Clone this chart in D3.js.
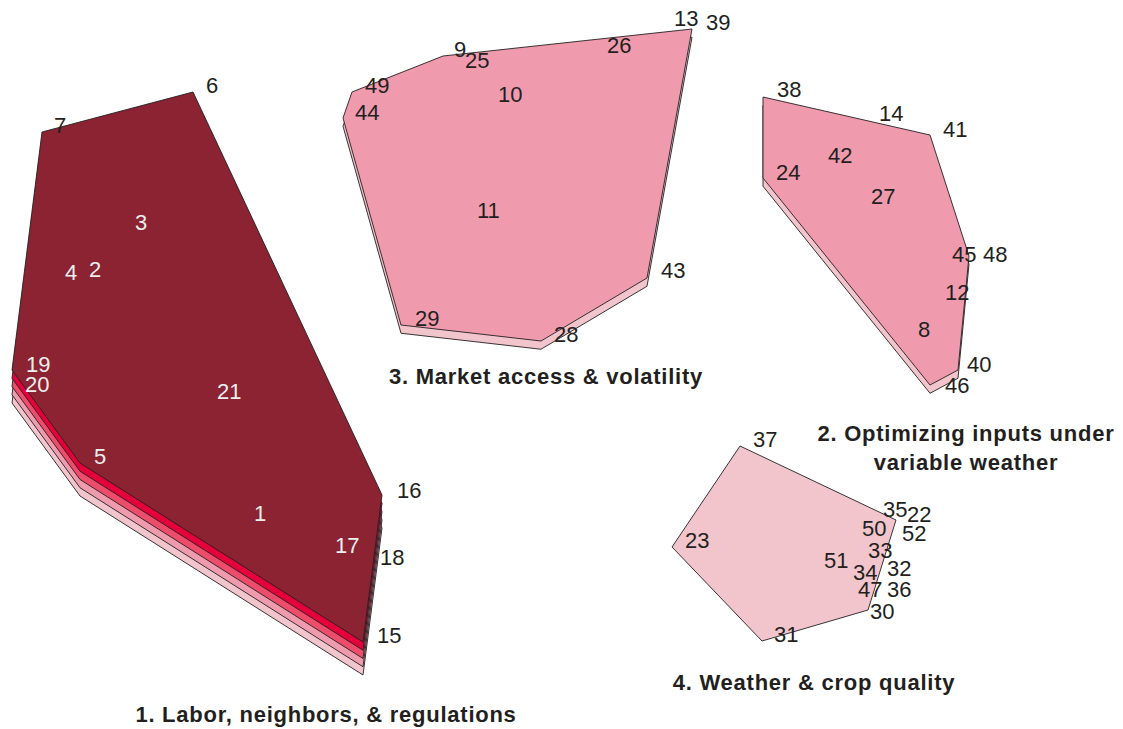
<!DOCTYPE html>
<html>
<head>
<meta charset="utf-8">
<script src="https://cdn.jsdelivr.net/npm/d3@7"></script>
<style>
  body { margin: 0; background: #fff; }
  svg { display: block; font-family: Arial, "Liberation Sans", sans-serif; }
</style>
</head>
<body>
<svg width="1123" height="729"></svg>
<script>
var svg = d3.select('svg');
var width = +svg.attr('width');
var height = +svg.attr('height');

// layer palette, lightest (bottom) to darkest (top)
var layerColors = ['#f2c5cd', '#f09aad', '#ee4c6b', '#e6003b', '#8b2332'];

// cluster hull vertices (map units)
var hull1 = [[193, 92], [42, 132], [12, 370], [80, 463], [363, 642], [382, 495]];
var hull2 = [[763, 97], [930, 135], [969, 256], [958, 370], [930, 385], [763, 178]];
var hull3 = [[443, 56], [692, 29], [647, 278], [541, 341], [401, 325], [343, 118], [352, 92]];
var hull4 = [[740, 446], [896, 520], [868, 610], [762, 641], [672, 547]];

var hulls = [hull1, hull2, hull3, hull4];
var layerCount = [5, 2, 2, 1];

// cluster titles
var titleLines = [
  ['1. Labor, neighbors, & regulations'],
  ['2. Optimizing inputs under', 'variable weather'],
  ['3. Market access & volatility'],
  ['4. Weather & crop quality']
];
var titleX = [326, 966, 546, 814];
var titleY = [722, 441, 384, 690];

// point labels: id, x, y (label anchor), cluster
var labelIds = [6, 7, 3, 4, 2, 19, 20, 21, 5, 1, 17, 16, 18, 15,
  13, 39, 26, 9, 25, 49, 44, 10, 11, 43, 29, 28,
  38, 14, 41, 42, 24, 27, 45, 48, 12, 8, 40, 46,
  37, 23, 35, 22, 50, 52, 33, 51, 34, 32, 47, 36, 30, 31];
var labelX = [206, 54, 135, 65, 89, 26, 25, 217, 94, 254, 335, 397, 380, 377,
  674, 706, 607, 454, 465, 365, 355, 498, 477, 661, 415, 554,
  777, 879, 943, 828, 776, 871, 952, 983, 945, 918, 967, 945,
  753, 685, 883, 907, 862, 902, 868, 824, 853, 887, 858, 887, 870, 774];
var labelY = [93, 133, 230, 280, 277, 372, 392, 399, 464, 521, 553, 498, 565, 643,
  26, 30, 53, 57, 68, 93, 120, 102, 218, 278, 326, 342,
  97, 121, 137, 163, 180, 204, 262, 262, 300, 337, 372, 393,
  447, 548, 517, 522, 536, 541, 558, 568, 580, 576, 597, 597, 619, 642];
var labelInside = [0, 0, 1, 1, 1, 1, 1, 1, 1, 1, 1, 0, 0, 0,
  0, 0, 0, 0, 0, 0, 0, 0, 0, 0, 0, 0,
  0, 0, 0, 0, 0, 0, 0, 0, 0, 0, 0, 0,
  0, 0, 0, 0, 0, 0, 0, 0, 0, 0, 0, 0, 0, 0];

var layerOffset = 8.25;

var x = d3.scaleLinear().domain([0, 1123]).range([0, width]);
var y = d3.scaleLinear().domain([0, 729]).range([0, height]);

var line = d3.line()
  .x(function(d) { return x(d[0]); })
  .y(function(d) { return y(d[1]); })
  .curve(d3.curveLinearClosed);

var hullLayer = svg.append('g').attr('class', 'hulls');

hulls.forEach(function(h, i) {
  var n = layerCount[i];
  // draw from bottom (most offset) up to the top layer
  for (var k = n - 1; k >= 0; k--) {
    var shifted = h.map(function(p) { return [p[0], p[1] + k * layerOffset]; });
    var color = layerColors[n - 1 - k];
    hullLayer.append('path')
      .attr('d', line(shifted))
      .attr('fill', color)
      .attr('stroke', '#231f20')
      .attr('stroke-width', 0.9)
      .attr('stroke-linejoin', 'miter');
  }
});

var labels = svg.append('g').attr('class', 'labels')
  .selectAll('text')
  .data(labelIds)
  .enter()
  .append('text')
  .attr('x', function(d, i) { return x(labelX[i]); })
  .attr('y', function(d, i) { return y(labelY[i]); })
  .attr('font-size', 22)
  .attr('fill', function(d, i) { return labelInside[i] ? '#eeeeee' : '#231f20'; })
  .text(function(d) { return d; });

var titles = svg.append('g').attr('class', 'titles')
  .selectAll('text')
  .data(titleLines)
  .enter()
  .append('text')
  .attr('text-anchor', 'middle')
  .attr('font-size', 22)
  .attr('font-weight', 'bold')
  .attr('letter-spacing', 0.75)
  .attr('fill', '#231f20')
  .attr('transform', function(d, i) { return 'translate(' + [x(titleX[i]), y(titleY[i])] + ')'; });

titles.selectAll('tspan')
  .data(function(d) { return d; })
  .enter()
  .append('tspan')
  .attr('x', 0)
  .attr('dy', function(d, j) { return j === 0 ? 0 : 29; })
  .text(function(d) { return d; });
</script>
</body>
</html>
